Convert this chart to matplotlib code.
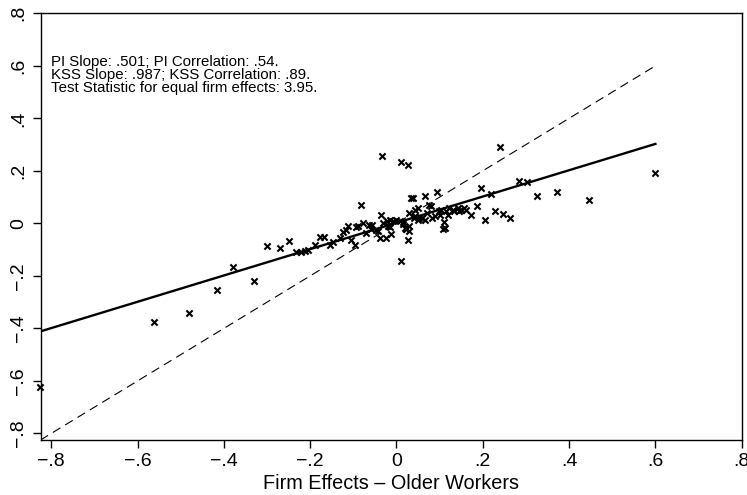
import matplotlib
matplotlib.use("Agg")
import matplotlib.pyplot as plt
import numpy as np

plt.rcParams['font.family'] = ['Liberation Sans', 'DejaVu Sans']

# Scatter data: firm effects (older workers, x) vs (younger workers, y)
x_vals = [-0.827, -0.561, -0.482, -0.417, -0.378, -0.331, -0.301, -0.269, -0.250,
          -0.232, -0.221, -0.212, -0.206, -0.190, -0.177, -0.167, -0.155, -0.146,
          -0.132, -0.124, -0.117, -0.113, -0.105, -0.096, -0.093, -0.090, -0.082,
          -0.078, -0.070, -0.063, -0.060, -0.056, -0.047, -0.043, -0.039, -0.035,
          -0.034, -0.031, -0.024, -0.023, -0.020, -0.016, -0.015, -0.012, -0.008,
          0.000, 0.007, 0.011, 0.011, 0.015, 0.015, 0.019, 0.021, 0.022, 0.026,
          0.026, 0.030, 0.030, 0.030, 0.034, 0.038, 0.040, 0.042, 0.044, 0.050,
          0.050, 0.053, 0.058, 0.065, 0.065, 0.070, 0.076, 0.080, 0.083, 0.090,
          0.094, 0.098, 0.100, 0.103, 0.107, 0.111, 0.112, 0.114, 0.120, 0.122,
          0.130, 0.134, 0.142, 0.145, 0.150, 0.157, 0.162, 0.173, 0.186, 0.196,
          0.206, 0.219, 0.229, 0.239, 0.246, 0.264, 0.283, 0.303, 0.325, 0.371,
          0.447, 0.600]
y_vals = [-0.624, -0.377, -0.343, -0.252, -0.168, -0.218, -0.088, -0.092, -0.069,
          -0.108, -0.108, -0.104, -0.102, -0.084, -0.051, -0.051, -0.081, -0.072,
          -0.055, -0.034, -0.024, -0.011, -0.062, -0.081, -0.013, -0.010, 0.069,
          0.002, -0.036, -0.008, -0.020, -0.005, -0.024, -0.030, -0.055, 0.030,
          0.258, 0.002, -0.055, 0.008, -0.010, -0.013, 0.014, -0.039, 0.008,
          0.014, 0.008, 0.234, -0.144, -0.004, 0.006, -0.017, -0.020, -0.023, 0.222,
          -0.065, -0.011, 0.040, -0.030, 0.097, 0.097, 0.021, 0.027, 0.050, 0.014,
          0.060, 0.021, 0.021, 0.103, 0.014, 0.040, 0.071, 0.065, 0.022, 0.027,
          0.118, 0.047, 0.030, 0.052, -0.021, 0.004, -0.016, 0.046, 0.030, 0.059,
          0.052, 0.046, 0.059, 0.046, 0.052, 0.059, 0.052, 0.033, 0.065, 0.135,
          0.014, 0.110, 0.046, 0.291, 0.037, 0.021, 0.163, 0.156, 0.103, 0.120,
          0.088, 0.192]

pi_slope = 0.501
pi_intercept = 0.002
line_x_end = 0.6

tick_vals = [-0.8, -0.6, -0.4, -0.2, 0.0, 0.2, 0.4, 0.6, 0.8]
tick_labels = ["\u2212.8", "\u2212.6", "\u2212.4", "\u2212.2", "0", ".2", ".4", ".6", ".8"]

notes = ["PI Slope: .501; PI Correlation: .54.",
         "KSS Slope: .987; KSS Correlation: .89.",
         "Test Statistic for equal firm effects: 3.95."]
note_y = [0.60, 0.55, 0.50]

lo = -0.825

fig = plt.figure(figsize=(7.47, 4.95), dpi=100)
ax = fig.add_axes([40.5 / 747, 1 - 440 / 495, (741.7 - 40.5) / 747, (440 - 13.3) / 495])

ax.scatter(x_vals, y_vals, marker='x', s=20, c='black', linewidths=1.5,
           zorder=3, clip_on=False)

lx = np.array([lo, line_x_end])
ax.plot(lx, pi_intercept + pi_slope * lx, color='black', lw=1.7, zorder=2)
ax.plot(lx, lx, color='black', lw=0.8, dashes=(8, 5), zorder=2)

ax.set_xlim(lo, 0.8)
ax.set_ylim(lo, 0.8)
ax.set_xticks(tick_vals)
ax.set_xticklabels(tick_labels, fontsize=14)
ax.set_yticks(tick_vals)
ax.set_yticklabels(tick_labels, fontsize=14, rotation=90, va='center')
ax.tick_params(direction='out', length=5.5, width=1, pad=4, colors='black')
ax.set_xlabel("Firm Effects \u2013 Older Workers", fontsize=14.3, labelpad=3)

for s in ax.spines.values():
    s.set_linewidth(1.0)

for t, yy in zip(notes, note_y):
    ax.text(-0.80, yy, t, fontsize=10.8, va='baseline', ha='left')

fig.savefig("out.png", dpi=100)
